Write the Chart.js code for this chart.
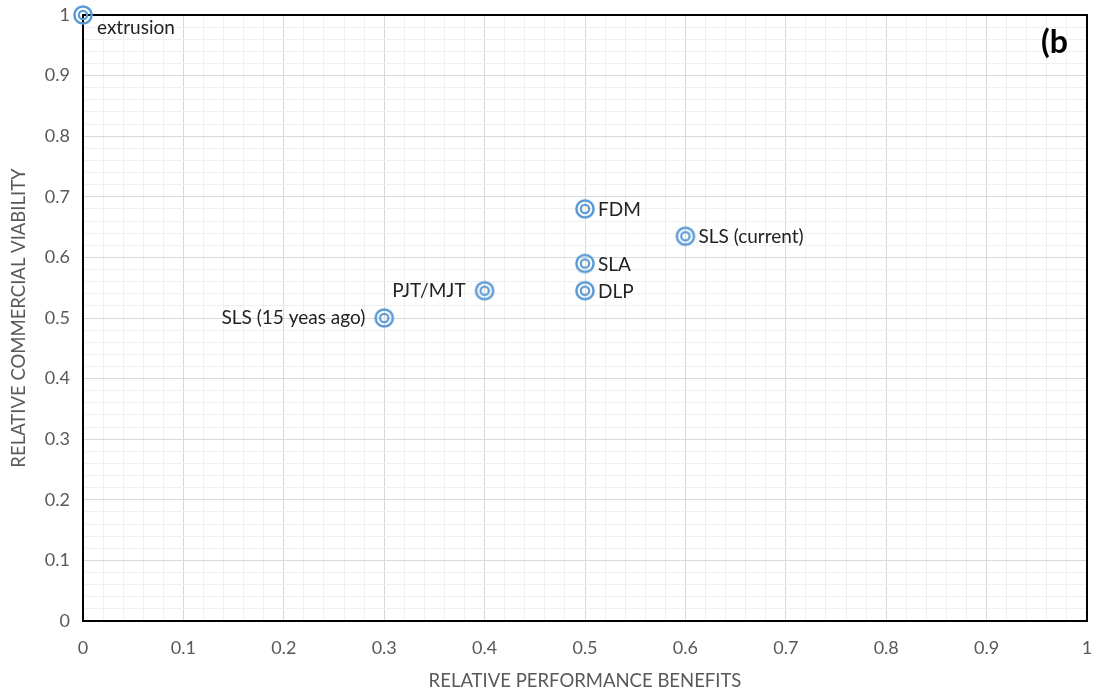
<!DOCTYPE html>
<html>
<head>
<meta charset="utf-8">
<script src="https://cdn.jsdelivr.net/npm/chart.js@4"></script>
<style>
  body { margin: 0; background: #fff; }
  #wrap { width: 1096px; height: 692px; }
</style>
</head>
<body>
<div id="wrap"><canvas id="scatterCanvas"></canvas></div>
<script>
// Data
const techNames = ['extrusion', 'FDM', 'SLS (current)', 'SLA', 'DLP', 'PJT/MJT', 'SLS (15 yeas ago)'];
const performance = [0, 0.5, 0.6, 0.5, 0.5, 0.4, 0.3];
const viability = [1, 0.68, 0.635, 0.59, 0.545, 0.545, 0.5];
const labelSide = ['below', 'right', 'right', 'right', 'right', 'left', 'left'];

const blue = '#5b9bd5';
const fontFamily = 'Lato, "Open Sans", sans-serif';
const labelFont = '19px ' + fontFamily;

// Double circle marker like the Excel one
function makeMarker() {
    const c = document.createElement('canvas');
    c.width = 24;
    c.height = 24;
    const g = c.getContext('2d');
    g.strokeStyle = blue;
    g.lineWidth = 2.5;
    g.beginPath();
    g.arc(12, 12, 8.6, 0, Math.PI * 2);
    g.stroke();
    g.lineWidth = 2.2;
    g.beginPath();
    g.arc(12, 12, 4.2, 0, Math.PI * 2);
    g.stroke();
    return c;
}

function isMajor(v) {
    return Math.abs(v * 10 - Math.round(v * 10)) < 1e-6;
}

// Frame round the plot area
const framePlugin = {
    id: 'frame',
    beforeDatasetsDraw(chart) {
        const { ctx, chartArea: a } = chart;
        ctx.save();
        ctx.strokeStyle = '#000';
        ctx.lineWidth = 2;
        ctx.strokeRect(a.left, a.top, a.right - a.left, a.bottom - a.top);
        ctx.restore();
    }
};

// Text next to each point, plus the "(b" tag
const labelPlugin = {
    id: 'pointLabels',
    afterDatasetsDraw(chart) {
        const { ctx, chartArea: a } = chart;
        const meta = chart.getDatasetMeta(0);
        ctx.save();
        ctx.font = labelFont;
        ctx.fillStyle = '#222';
        ctx.textBaseline = 'middle';
        meta.data.forEach((pt, i) => {
            const side = labelSide[i];
            if (side === 'left') {
                ctx.textAlign = 'right';
                ctx.fillText(techNames[i], pt.x - 19, pt.y);
            } else if (side === 'below') {
                ctx.textAlign = 'left';
                ctx.fillText(techNames[i], pt.x + 14, pt.y + 13);
            } else {
                ctx.textAlign = 'left';
                ctx.fillText(techNames[i], pt.x + 13, pt.y + 1);
            }
        });
        ctx.font = 'bold 32px ' + fontFamily;
        ctx.fillStyle = '#000';
        ctx.textAlign = 'right';
        ctx.fillText('(b', a.right - 19, a.top + 28);
        ctx.restore();
    }
};

function gridColor(c) {
    return isMajor(c.tick.value) ? '#d9d9d9' : '#f0f0f0';
}

function tickText(v) {
    return isMajor(v) ? String(Math.round(v * 10) / 10) : '';
}

const tickFont = { family: fontFamily, size: 18 };
const titleFont = { family: fontFamily, size: 18.5 };

new Chart(document.getElementById('scatterCanvas').getContext('2d'), {
    type: 'scatter',
    data: {
        datasets: [{
            data: performance.map((x, i) => ({ x: x, y: viability[i] })),
            pointStyle: makeMarker(),
            clip: false
        }]
    },
    options: {
        responsive: true,
        maintainAspectRatio: false,
        animation: false,
        layout: { padding: { top: 15, right: 9, left: 0, bottom: 0 }, autoPadding: false },
        plugins: {
            legend: { display: false },
            tooltip: { enabled: false }
        },
        scales: {
            x: {
                type: 'linear',
                min: 0,
                max: 1,
                afterFit(s) {
                    s.height = 71;
                    s.paddingLeft = 0;
                    s.paddingRight = 0;
                },
                border: { display: false },
                grid: { color: gridColor, lineWidth: 1, drawTicks: false },
                ticks: {
                    stepSize: 0.02,
                    autoSkip: false,
                    maxRotation: 0,
                    padding: 16,
                    color: '#595959',
                    font: tickFont,
                    callback: tickText
                },
                title: {
                    display: true,
                    text: 'RELATIVE PERFORMANCE BENEFITS',
                    color: '#595959',
                    font: titleFont,
                    padding: { top: 0, bottom: 0 }
                }
            },
            y: {
                type: 'linear',
                min: 0,
                max: 1,
                afterFit(s) {
                    s.width = 83;
                    s.paddingTop = 0;
                    s.paddingBottom = 0;
                },
                border: { display: false },
                grid: { color: gridColor, lineWidth: 1, drawTicks: false },
                ticks: {
                    stepSize: 0.02,
                    autoSkip: false,
                    padding: 13,
                    color: '#595959',
                    font: tickFont,
                    callback: tickText
                },
                title: {
                    display: true,
                    text: 'RELATIVE COMMERCIAL VIABILITY',
                    color: '#595959',
                    font: titleFont,
                    padding: { top: 8, bottom: 0 }
                }
            }
        }
    },
    plugins: [framePlugin, labelPlugin]
});
</script>
</body>
</html>
